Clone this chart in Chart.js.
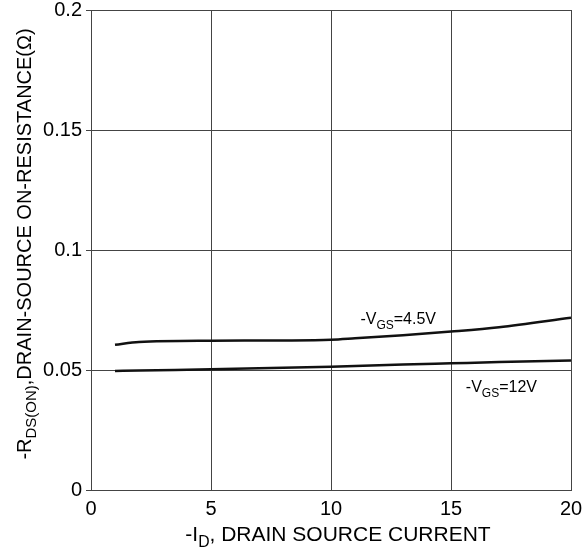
<!DOCTYPE html>
<html>
<head>
  <meta charset="utf-8">
  <script src="https://cdn.jsdelivr.net/npm/chart.js"></script>
  <style>
    body { margin: 0; background: #fff; }
    #wrap { width: 586px; height: 548px; }
  </style>
</head>
<body>
  <div id="wrap"><canvas id="c"></canvas></div>
  <script>
    // Dados
    const currentId = [1, 2, 5, 8, 10, 11, 13, 15, 17, 20];
    const rds45 = [0.0605, 0.0617, 0.0622, 0.0623, 0.0626, 0.0632, 0.0645, 0.0660, 0.0678, 0.0718];
    const rds12 = [0.0496, 0.0498, 0.0503, 0.0509, 0.0514, 0.0517, 0.0523, 0.0528, 0.0533, 0.0540];
    const xTicks = [0, 5, 10, 15, 20];
    const yTicks = [0, 0.05, 0.1, 0.15, 0.2];

    // Rotulos das curvas (posicao em unidades do grafico)
    const curveLabels = [
      { x: 12.8, y: 0.0708, parts: [['-V', false], ['GS', true], ['=4.5V', false]] },
      { x: 17.1, y: 0.0425, parts: [['-V', false], ['GS', true], ['=12V', false]] }
    ];
    const yTitle = [['-R', false], ['DS(ON)', true], [',DRAIN-SOURCE ON-RESISTANCE(\u03A9)', false]];
    const xTitle = [['-I', false], ['D', true], [', DRAIN SOURCE CURRENT', false]];

    const FONT = '"Liberation Sans", Arial, sans-serif';

    function richWidth(ctx, parts, size) {
      let w = 0;
      parts.forEach(([t, sub]) => {
        ctx.font = (sub ? size * 0.75 : size) + 'px ' + FONT;
        w += ctx.measureText(t).width;
      });
      return w;
    }

    function drawRich(ctx, parts, size, cx, cy) {
      const w = richWidth(ctx, parts, size);
      let x = cx - w / 2;
      ctx.textBaseline = 'middle';
      ctx.textAlign = 'left';
      ctx.fillStyle = '#000';
      parts.forEach(([t, sub]) => {
        ctx.font = (sub ? size * 0.75 : size) + 'px ' + FONT;
        ctx.fillText(t, x, sub ? cy + size * 0.35 : cy);
        x += ctx.measureText(t).width;
      });
    }

    const textPlugin = {
      id: 'textPlugin',
      afterDraw(chart) {
        const ctx = chart.ctx;
        const xs = chart.scales.x, ys = chart.scales.y;
        ctx.save();
        curveLabels.forEach(l => {
          drawRich(ctx, l.parts, 16, xs.getPixelForValue(l.x), ys.getPixelForValue(l.y));
        });
        drawRich(ctx, xTitle, 21, 338, 535);
        ctx.translate(25, 244);
        ctx.rotate(-Math.PI / 2);
        drawRich(ctx, yTitle, 20, 0, 0);
        ctx.restore();
      }
    };

    new Chart(document.getElementById('c'), {
      type: 'scatter',
      data: {
        datasets: [
          {
            label: '-VGS=4.5V',
            data: currentId.map((x, i) => ({ x, y: rds45[i] })),
            showLine: true,
            borderColor: '#111',
            borderWidth: 2.5,
            pointRadius: 0,
            cubicInterpolationMode: 'monotone'
          },
          {
            label: '-VGS=12V',
            data: currentId.map((x, i) => ({ x, y: rds12[i] })),
            showLine: true,
            borderColor: '#111',
            borderWidth: 2.5,
            pointRadius: 0,
            cubicInterpolationMode: 'monotone'
          }
        ]
      },
      options: {
        responsive: true,
        maintainAspectRatio: false,
        animation: false,
        layout: { padding: { left: 0, right: 15, top: 10, bottom: 0 } },
        plugins: { legend: { display: false }, tooltip: { enabled: false } },
        scales: {
          x: {
            type: 'linear',
            min: 0, max: 20,
            afterBuildTicks: s => { s.ticks = xTicks.map(v => ({ value: v })); },
            afterFit: s => { s.height = 58; s.paddingLeft = 0; s.paddingRight = 0; },
            ticks: { color: '#000', font: { family: FONT, size: 20 }, padding: 7, maxRotation: 0 },
            grid: { color: '#444', lineWidth: 1, drawTicks: false },
            border: { color: '#444', width: 1 }
          },
          y: {
            type: 'linear',
            min: 0, max: 0.2,
            afterBuildTicks: s => { s.ticks = yTicks.map(v => ({ value: v })); },
            afterFit: s => { s.width = 91; s.paddingTop = 0; s.paddingBottom = 0; },
            ticks: {
              color: '#000', font: { family: FONT, size: 20 }, padding: 4,
              callback: v => String(v)
            },
            grid: { color: '#444', lineWidth: 1, drawTicks: true, tickLength: 5 },
            border: { color: '#444', width: 1 }
          }
        }
      },
      plugins: [textPlugin]
    });
  </script>
</body>
</html>
